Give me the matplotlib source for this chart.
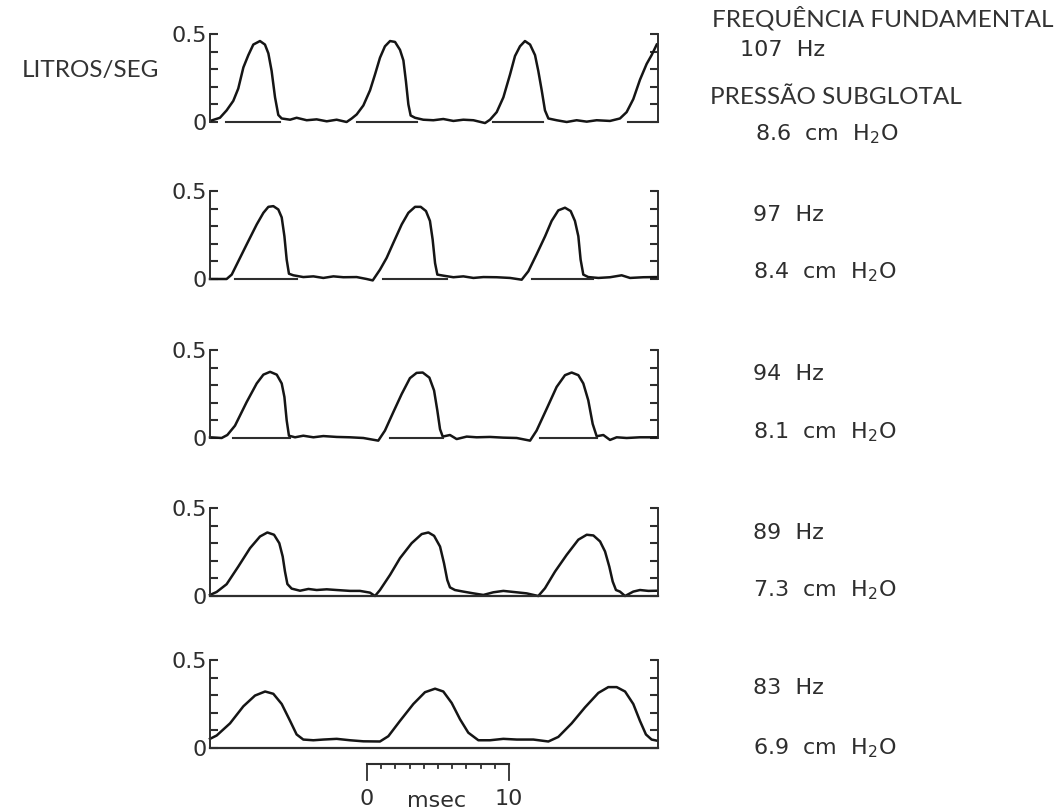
import matplotlib
matplotlib.use("Agg")
import matplotlib.pyplot as plt

plt.rcParams['mathtext.default'] = 'regular'

# ---------------- data (time in ms, flow in litros/seg) ----------------
t1 = [0.12, 0.70, 1.17, 1.64, 1.99, 2.35, 2.70, 3.05, 3.52, 3.87, 4.11, 4.34, 4.58, 4.81, 5.05,
      5.64, 6.10, 6.81, 7.51, 8.22, 8.92, 9.62, 9.98,
      10.33, 10.80, 11.27, 11.62, 11.97, 12.32, 12.68, 13.03, 13.38, 13.62, 13.80, 13.97, 14.13, 14.44,
      15.02, 15.73, 16.43, 17.14, 17.84, 18.55, 19.37, 19.72,
      20.19, 20.66, 21.13, 21.48, 21.83, 22.18, 22.54, 22.89, 23.12, 23.36, 23.59, 23.83,
      24.41, 25.12, 25.82, 26.53, 27.23, 28.17, 28.87,
      29.34, 29.81, 30.28, 30.75, 31.10, 31.46]
f1 = [0.009, 0.024, 0.066, 0.12, 0.19, 0.31, 0.38, 0.44, 0.46, 0.44, 0.39, 0.29, 0.14, 0.04, 0.02,
      0.013, 0.024, 0.010, 0.015, 0.004, 0.013, 0.000, 0.020,
      0.043, 0.094, 0.18, 0.27, 0.365, 0.43, 0.46, 0.455, 0.41, 0.35, 0.23, 0.10, 0.037, 0.024,
      0.013, 0.010, 0.017, 0.006, 0.013, 0.010, -0.006, 0.013,
      0.056, 0.14, 0.27, 0.375, 0.43, 0.46, 0.44, 0.38, 0.29, 0.18, 0.066, 0.02,
      0.010, 0.000, 0.010, 0.002, 0.010, 0.006, 0.020,
      0.056, 0.13, 0.24, 0.33, 0.38, 0.44]

t2 = [0.0, 1.17, 1.53, 1.88, 2.58, 3.29, 3.76, 4.11, 4.46, 4.81, 5.05, 5.24, 5.40, 5.56, 5.87,
      6.57, 7.28, 7.98, 8.69, 9.39, 10.33, 11.03, 11.46,
      11.97, 12.44, 12.91, 13.50, 13.97, 14.44, 14.84, 15.21, 15.49, 15.68, 15.85, 16.01, 16.43,
      17.14, 17.84, 18.55, 19.25, 20.19, 21.13, 21.95,
      22.42, 23.0, 23.6, 24.06, 24.53, 25.0, 25.4, 25.7, 25.94, 26.1, 26.29, 26.64,
      27.35, 28.17, 28.99, 29.58, 30.52, 31.46]
f2 = [0.0, 0.0, 0.025, 0.082, 0.196, 0.31, 0.376, 0.41, 0.414, 0.395, 0.35, 0.243, 0.11, 0.03, 0.021,
      0.011, 0.015, 0.006, 0.015, 0.010, 0.011, 0.0, -0.008,
      0.053, 0.12, 0.205, 0.31, 0.376, 0.41, 0.41, 0.386, 0.33, 0.224, 0.09, 0.025, 0.019,
      0.010, 0.015, 0.006, 0.011, 0.010, 0.006, -0.004,
      0.044, 0.14, 0.243, 0.33, 0.39, 0.405, 0.386, 0.33, 0.243, 0.11, 0.025, 0.011,
      0.006, 0.010, 0.021, 0.006, 0.010, 0.011]

t3 = [0.0, 0.82, 1.22, 1.76, 2.58, 3.29, 3.76, 4.23, 4.70, 5.05, 5.24, 5.40, 5.56, 5.99,
      6.57, 7.28, 7.98, 8.92, 9.86, 10.80, 11.85,
      12.32, 12.91, 13.50, 14.08, 14.55, 14.98, 15.45, 15.78, 16.01, 16.20, 16.39,
      16.90, 17.37, 18.08, 18.78, 19.72, 20.66, 21.60, 22.54,
      23.0, 23.71, 24.41, 25.0, 25.47, 25.94, 26.29, 26.64, 26.95, 27.23,
      27.70, 28.17, 28.64, 29.34, 30.28, 31.46]
f3 = [0.004, 0.0, 0.017, 0.07, 0.204, 0.31, 0.36, 0.376, 0.36, 0.31, 0.233, 0.10, 0.013, 0.004,
      0.013, 0.004, 0.011, 0.006, 0.004, 0.0, -0.015,
      0.042, 0.147, 0.25, 0.34, 0.37, 0.372, 0.343, 0.27, 0.156, 0.05, 0.008,
      0.017, -0.006, 0.008, 0.004, 0.006, 0.002, 0.0, -0.015,
      0.042, 0.166, 0.29, 0.357, 0.372, 0.357, 0.31, 0.214, 0.08, 0.01,
      0.017, -0.011, 0.004, 0.0, 0.004, 0.004]

t4 = [0.0, 0.47, 1.17, 1.99, 2.82, 3.52, 4.04, 4.51, 4.88, 5.12, 5.28, 5.45, 5.75,
      6.34, 6.93, 7.51, 8.22, 8.92, 9.86, 10.56, 11.27, 11.62,
      11.97, 12.68, 13.38, 14.20, 14.91, 15.38, 15.78, 16.20, 16.48, 16.71, 16.90, 17.25,
      17.84, 18.55, 19.25, 19.95, 20.66, 21.36, 22.30, 23.12,
      23.59, 24.30, 25.12, 25.94, 26.53, 27.0, 27.47, 27.82, 28.12, 28.36, 28.59, 28.87,
      29.23, 29.81, 30.28, 30.87, 31.46]
f4 = [0.006, 0.023, 0.067, 0.167, 0.272, 0.338, 0.361, 0.348, 0.30, 0.224, 0.139, 0.068, 0.042,
      0.030, 0.040, 0.034, 0.038, 0.034, 0.029, 0.029, 0.019, 0.0,
      0.034, 0.12, 0.215, 0.30, 0.352, 0.361, 0.342, 0.281, 0.186, 0.091, 0.049, 0.034,
      0.025, 0.015, 0.006, 0.021, 0.029, 0.023, 0.015, 0.0,
      0.044, 0.139, 0.234, 0.32, 0.348, 0.344, 0.31, 0.253, 0.167, 0.082, 0.034, 0.025,
      0.0, 0.025, 0.034, 0.029, 0.030]

t5 = [0.0, 0.47, 1.41, 2.35, 3.17, 3.88, 4.46, 5.05, 5.64, 6.10, 6.57,
      7.28, 7.98, 8.92, 9.86, 10.80, 11.97,
      12.56, 13.38, 14.32, 15.14, 15.85, 16.43, 17.02, 17.61, 18.19, 18.90,
      19.72, 20.66, 21.60, 22.77, 23.83,
      24.53, 25.47, 26.41, 27.35, 28.05, 28.64, 29.23, 29.81, 30.28, 30.70, 31.10, 31.46]
f5 = [0.052, 0.071, 0.14, 0.237, 0.298, 0.321, 0.308, 0.25, 0.154, 0.077, 0.048,
      0.044, 0.048, 0.052, 0.044, 0.038, 0.037,
      0.067, 0.154, 0.25, 0.317, 0.337, 0.321, 0.256, 0.163, 0.087, 0.044,
      0.044, 0.052, 0.048, 0.048, 0.037,
      0.063, 0.14, 0.231, 0.313, 0.346, 0.346, 0.321, 0.25, 0.154, 0.077, 0.048, 0.042]

times = [t1, t2, t3, t4, t5]
flows = [f1, f2, f3, f4, f5]

# zero reference line pieces (start, end in ms); None = full line
zero_segments = [
    [(1.13, 4.93), (10.33, 14.55), (19.95, 23.47), (29.46, 31.55)],
    [(1.76, 6.10), (12.21, 16.67), (22.65, 27.0)],
    [(1.64, 5.63), (12.68, 16.43), (23.24, 27.23)],
    None,
    None,
]

freq_labels = ["107  Hz", "97  Hz", "94  Hz", "89  Hz", "83  Hz"]
press_labels = ["8.6  cm  H$_2$O", "8.4  cm  H$_2$O", "8.1  cm  H$_2$O",
                "7.3  cm  H$_2$O", "6.9  cm  H$_2$O"]
ytick_vals = [0, 0.1, 0.2, 0.3, 0.4, 0.5]
ytick_text = ["0", "", "", "", "", "0.5"]
scale_bar = (0, 10)      # msec
x_span = 31.55           # ms shown in each panel

# ---------------- layout ----------------
W, H = 1062, 811
fig = plt.figure(figsize=(W / 100, H / 100), dpi=100)
baselines_px = [122, 279, 438, 596, 748]
px_per_unit = 176.0
ymin, ymax = -0.05, 0.55
ax_left_px, ax_w_px = 210, 448
freq_y_px = [50, 215, 374, 533, 688]
press_y_px = [134, 272, 432, 590, 748]
freq_x_px = [740, 753, 753, 753, 753]
press_x_px = [755, 753, 753, 753, 753]

line_col = "#151515"
ink = "#2e2e2e"
axes_list = []
for i in range(5):
    b = baselines_px[i]
    bottom_px = b + (-ymin) * px_per_unit
    h_px = (ymax - ymin) * px_per_unit
    ax = fig.add_axes([ax_left_px / W, 1 - bottom_px / H, ax_w_px / W, h_px / H])
    ax.set_xlim(0, x_span)
    ax.set_ylim(ymin, ymax)
    ax.patch.set_alpha(0)
    for s in ["top", "bottom"]:
        ax.spines[s].set_visible(False)
    for s in ["left", "right"]:
        ax.spines[s].set_bounds(0, 0.5)
        ax.spines[s].set_linewidth(1.4)
        ax.spines[s].set_color(ink)
    ax.set_xticks([])
    ax.set_yticks(ytick_vals)
    ax.set_yticklabels(ytick_text)
    ax.tick_params(axis="y", direction="in", length=6, width=1.5, colors=ink,
                   left=True, right=True, labelleft=True, labelright=False,
                   labelsize=16, pad=2, labelcolor=ink)
    ax.plot(times[i], flows[i], color=line_col, lw=1.8, solid_joinstyle="round",
            clip_on=False)
    segs = zero_segments[i]
    if segs is None:
        ax.plot([0, x_span], [0, 0], color=ink, lw=1.6, clip_on=False)
    else:
        for a, c in segs:
            ax.plot([a, c], [0, 0], color=ink, lw=1.5, clip_on=False)
    fig.text(freq_x_px[i] / W, 1 - freq_y_px[i] / H, freq_labels[i],
             fontsize=16, color=ink, ha="left", va="center")
    fig.text(press_x_px[i] / W, 1 - press_y_px[i] / H, press_labels[i],
             fontsize=16, color=ink, ha="left", va="center")
    axes_list.append(ax)

# ---------------- scale bar under last panel ----------------
ax5 = axes_list[-1]
x0 = (367 - ax_left_px) / ax_w_px * x_span
ms_per_unit = (142 / ax_w_px * x_span) / (scale_bar[1] - scale_bar[0])
ms_to_x = lambda m: x0 + (m - scale_bar[0]) * ms_per_unit
bar_y = -0.09
ax5.plot([ms_to_x(scale_bar[0]), ms_to_x(scale_bar[1])], [bar_y, bar_y],
         color=ink, lw=1.5, clip_on=False)
for m in range(scale_bar[0], scale_bar[1] + 1):
    y_end = -0.18 if m in scale_bar else -0.115
    ax5.plot([ms_to_x(m), ms_to_x(m)], [bar_y, y_end], color=ink, lw=1.3,
             clip_on=False)
ax5.text(ms_to_x(scale_bar[0]), -0.29, str(scale_bar[0]), ha="center", va="center",
         fontsize=16, color=ink, clip_on=False)
ax5.text(ms_to_x(scale_bar[1]), -0.29, str(scale_bar[1]), ha="center", va="center",
         fontsize=16, color=ink, clip_on=False)
ax5.text(437 / ax_w_px * x_span - (ax_left_px / ax_w_px * x_span), -0.30, "msec",
         ha="center", va="center", fontsize=16, color=ink, clip_on=False)

# ---------------- headings ----------------
head_font = ["Lato", "DejaVu Sans"]
fig.text(712 / W, 1 - 18 / H, "FREQUÊNCIA FUNDAMENTAL", family=head_font,
         fontsize=17.5, color="#333333", ha="left", va="center")
fig.text(710 / W, 1 - 97 / H, "PRESSÃO SUBGLOTAL", family=head_font,
         fontsize=17.5, color="#333333", ha="left", va="center")
fig.text(22 / W, 1 - 70 / H, "LITROS/SEG", family=head_font,
         fontsize=17.5, color="#333333", ha="left", va="center")

fig.savefig("out.png", dpi=100, facecolor="white")
